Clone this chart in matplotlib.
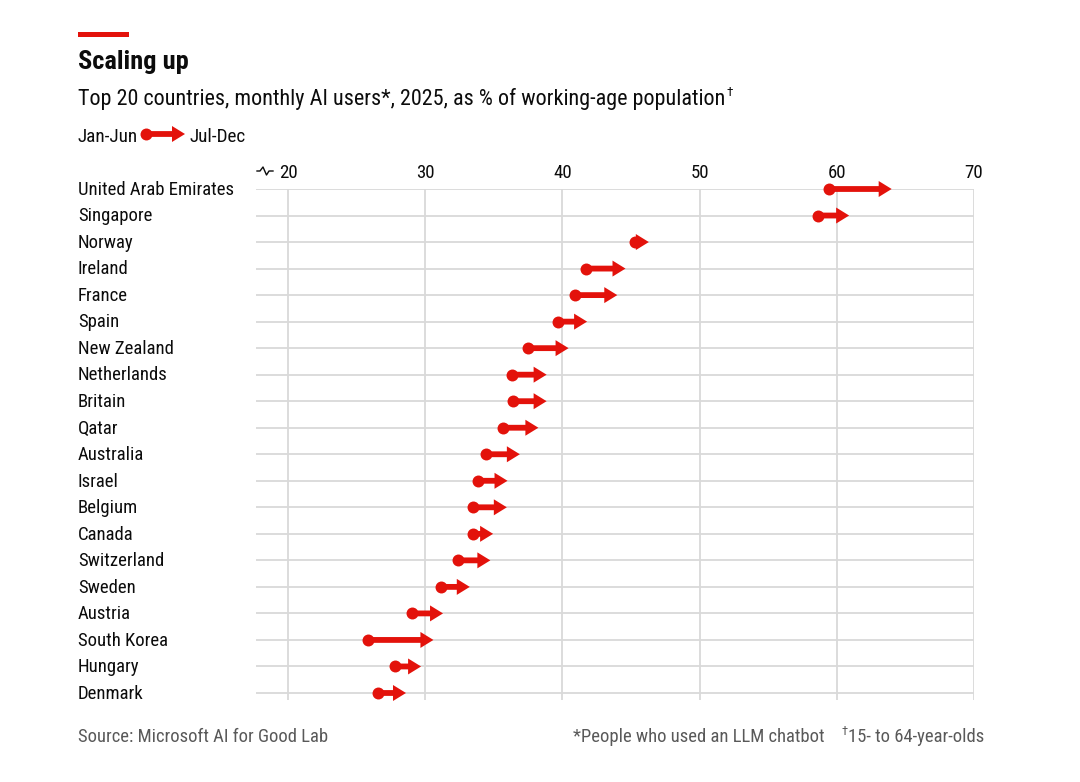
import matplotlib
matplotlib.use("Agg")
import matplotlib.pyplot as plt
import matplotlib.transforms as mtransforms
from matplotlib import font_manager
from matplotlib.lines import Line2D
from matplotlib.patches import Rectangle

# ---------------- data ----------------
countries = ["United Arab Emirates", "Singapore", "Norway", "Ireland", "France",
             "Spain", "New Zealand", "Netherlands", "Britain", "Qatar",
             "Australia", "Israel", "Belgium", "Canada", "Switzerland",
             "Sweden", "Austria", "South Korea", "Hungary", "Denmark"]
jan_jun = [59.4, 58.6, 45.3, 41.7, 40.9, 39.65, 37.5, 36.3, 36.4, 35.7,
           34.45, 33.85, 33.45, 33.45, 32.4, 31.15, 29.05, 25.85, 27.8, 26.55]
jul_dec = [64.0, 60.9, 46.3, 44.6, 44.0, 41.8, 40.45, 38.85, 38.85, 38.25,
           36.9, 36.0, 35.95, 34.95, 34.75, 33.25, 31.3, 30.6, 29.7, 28.6]
xticks = [20, 30, 40, 50, 60, 70]

title = "Scaling up"
subtitle = "Top 20 countries, monthly AI users*, 2025, as % of working-age population"
source = "Source: Microsoft AI for Good Lab"
note1 = "*People who used an LLM chatbot"
note2 = "15- to 64-year-olds"

# ---------------- style ----------------
names = {f.name for f in font_manager.fontManager.ttflist}
FONT = "DejaVu Sans"
for cand in ["Roboto Condensed", "Liberation Sans Narrow", "Open Sans Condensed",
             "Noto Sans Condensed", "Roboto", "Liberation Sans"]:
    if cand in names:
        FONT = cand
        break
plt.rcParams["font.family"] = [FONT, "DejaVu Sans"]

RED = "#E3120B"
GRID = "#D9D9D9"
TXT = "#0C0C0C"
GREY = "#595959"

W, H = 1080, 782
fig = plt.figure(figsize=(W / 100, H / 100), dpi=100)
fig.patch.set_facecolor("white")

def fx(px):
    return px / W

def fy(py):
    return 1 - py / H

ax = fig.add_axes([fx(256), fy(700), fx(974) - fx(256), fy(189) - fy(700)])
n = len(countries)
ypos = list(range(n))
x_left = 20 - 32 / 13.72
ax.set_xlim(x_left, 70)
ax.set_ylim(19 + 7 / 26.5, 0)
for s in ax.spines.values():
    s.set_visible(False)

# grid
for xt in xticks:
    ax.axvline(xt, color=GRID, lw=1.3, zorder=1)
ax.hlines(ypos, x_left, 70, color=GRID, lw=1.3, zorder=1)

ax.set_xticks(xticks)
ax.set_xticklabels([str(t) for t in xticks])
ax.xaxis.tick_top()
ax.tick_params(axis="x", length=0, pad=5, labelsize=13.6, labelcolor=TXT)
ax.set_yticks([])

# arrows
head_len = 13 / 13.72
for y, a, b in zip(ypos, jan_jun, jul_dec):
    ax.arrow(a, y, b - a, 0, width=5.8 / 26.5, head_width=16 / 26.5,
             head_length=min(head_len, b - a), length_includes_head=True,
             color=RED, lw=0, zorder=3, clip_on=False)
ax.scatter(jan_jun, ypos, s=74, color=RED, zorder=4, clip_on=False, lw=0)

# country labels
trans = mtransforms.blended_transform_factory(fig.transFigure, ax.transData)
for y, c in zip(ypos, countries):
    ax.text(fx(78), y + 0.03, c, transform=trans, ha="left", va="center",
            fontsize=13.5, color=TXT)

# axis break symbol
bx = [257, 260, 263, 266.5, 269, 273]
by = [171, 171, 167, 175, 171, 171]
fig.add_artist(Line2D([fx(v) for v in bx], [fy(v) for v in by],
                      color=TXT, lw=1.0))

# header
fig.add_artist(Rectangle((fx(78), fy(37)), fx(129) - fx(78), fy(32) - fy(37),
                         color=RED, lw=0, transform=fig.transFigure))
fig.text(fx(78), fy(68.5), title, fontsize=19, fontweight="bold",
         color=TXT, ha="left", va="baseline")
t = fig.text(fx(78), fy(105), subtitle, fontsize=15.95, color=TXT,
             ha="left", va="baseline")
fig.canvas.draw()
bb = t.get_window_extent()
fig.text(bb.x1 / W + 0.001, fy(96), "\u2020", fontsize=9.5, color=TXT,
         ha="left", va="baseline")

# legend
fig.text(fx(78), fy(141.5), "Jan-Jun", fontsize=13.8, color=TXT,
         ha="left", va="baseline")
fig.text(fx(190), fy(141.5), "Jul-Dec", fontsize=13.8, color=TXT,
         ha="left", va="baseline")
lax = fig.add_axes([fx(140), fy(144), fx(190) - fx(140), fy(124) - fy(144)])
lax.set_xlim(140, 190)
lax.set_ylim(144, 124)
lax.axis("off")
lax.arrow(146, 134, 39, 0, width=5.8, head_width=16, head_length=13,
          length_includes_head=True, color=RED, lw=0)
lax.scatter([146], [134], s=74, color=RED, lw=0)

# footer
fig.text(fx(78), fy(742), source, fontsize=13.4, color=GREY,
         ha="left", va="baseline")
t2 = fig.text(fx(984), fy(742), note2, fontsize=13.4, color=GREY,
              ha="right", va="baseline")
fig.canvas.draw()
bb2 = t2.get_window_extent()
d = fig.text(bb2.x0 / W - 0.0005, fy(735), "\u2020", fontsize=9, color=GREY,
             ha="right", va="baseline")
fig.canvas.draw()
bb3 = d.get_window_extent()
fig.text(bb3.x0 / W - 0.015, fy(742), note1, fontsize=13.4, color=GREY,
         ha="right", va="baseline")

fig.savefig("out.png", dpi=100, facecolor="white")
